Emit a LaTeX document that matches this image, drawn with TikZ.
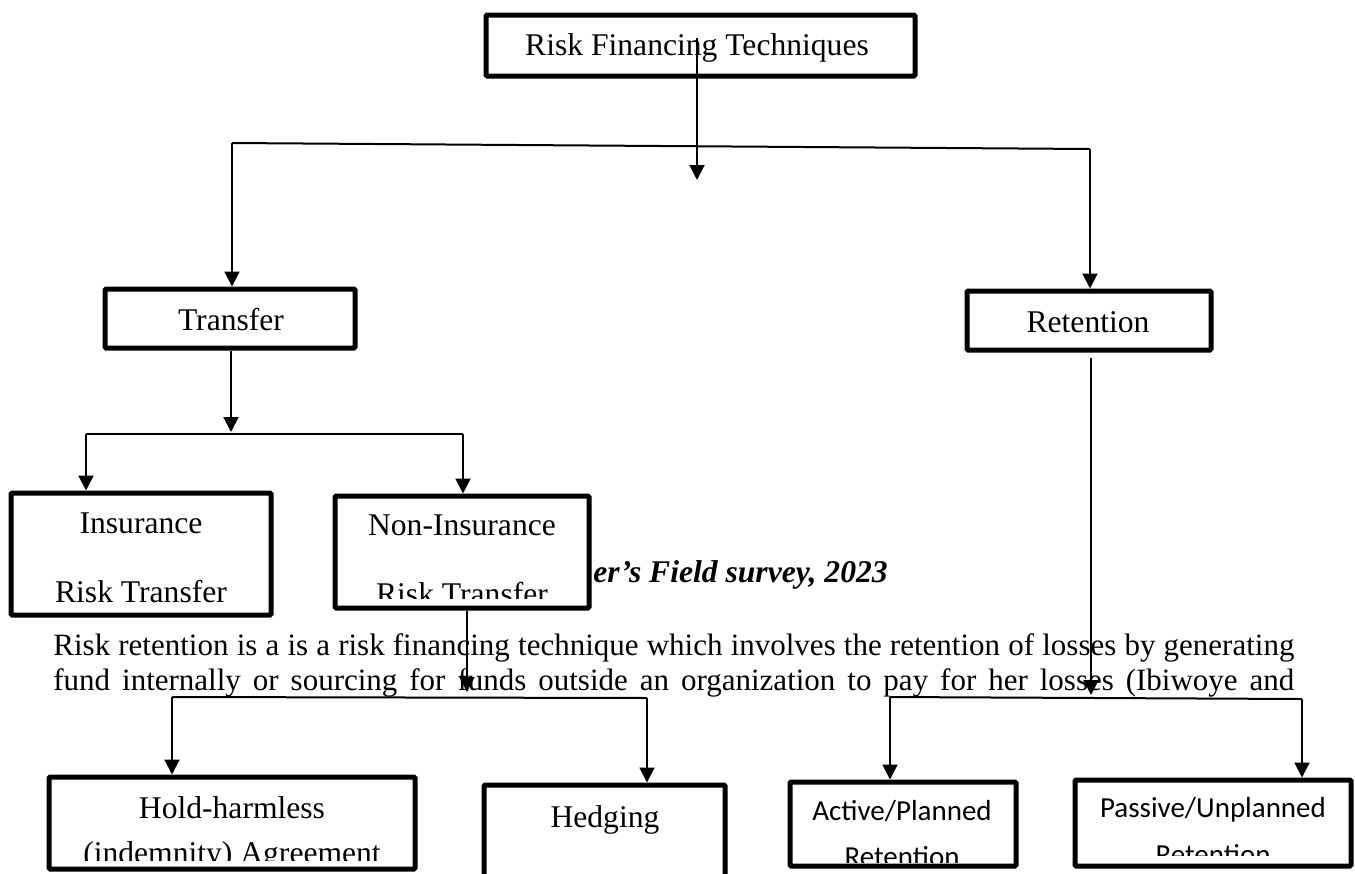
\documentclass[tikz,border=0pt]{standalone}
\usepackage{fontspec}
\setmainfont{Liberation Serif}
\newfontfamily\calibrifont{Carlito}
\usetikzlibrary{arrows.meta}

\begin{document}
\begin{tikzpicture}[
    x=0.5pt, y=-0.5pt,
    >={Triangle[length=7.5pt,width=7.5pt]},
    box/.style={
        draw=black,
        line width=2.5pt,
        rounded corners=0.6pt,
        fill=white,
        inner sep=0pt
    },
    lbl/.style={
        anchor=base,
        inner sep=0pt,
        font=\fontsize{15.8}{18}\selectfont
    },
    cal/.style={
        anchor=base,
        inner sep=0pt,
        font=\calibrifont\fontsize{14.5}{17}\selectfont
    },
    para/.style={
        anchor=base west,
        inner sep=0pt,
        font=\fontsize{15.5}{18}\selectfont
    },
    arr/.style={->, line width=1pt, draw=black},
    conn/.style={line width=1pt, draw=black}
]
    \useasboundingbox (0,0) rectangle (1355,873);

    \node[para] (parone) at (53,655)
        {\makebox[620.5pt][s]{Risk retention is a is a risk financing technique which involves the retention of losses by generating}};
    \node[para] (partwo) at (53,690)
        {\makebox[620.5pt][s]{fund internally or sourcing for funds outside an organization to pay for her losses (Ibiwoye and}};
    \node[para, font=\fontsize{15.8}{18}\selectfont\bfseries\itshape] (survey) at (593,582)
        {er’s Field survey, 2023};

    \node[box, minimum width=214.5pt, minimum height=30.5pt] (rft) at (700.5,45.5) {};
    \node[lbl] (rfttext) at (697,55) {Risk Financing Techniques};

    \node[box, minimum width=125pt, minimum height=29.5pt] (transfer) at (230,318.5) {};
    \node[lbl] (transfertext) at (231,330) {Transfer};

    \node[box, minimum width=122pt, minimum height=29.5pt] (retention) at (1089,320.5) {};
    \node[lbl] (retentiontext) at (1088,332) {Retention};

    \node[box, minimum width=130pt, minimum height=61pt] (ins) at (141,554) {};
    \node[lbl] (insone) at (141,533) {Insurance};
    \node[lbl] (instwo) at (141,602) {Risk Transfer};

    \node[box, minimum width=127pt, minimum height=56pt] (nonins) at (462,552) {};
    \node[lbl] (noninsone) at (462,535) {Non-Insurance};
    \begin{scope}
        \clip (335,496) rectangle (589,598);
        \node[lbl] (noninstwo) at (462,604) {Risk Transfer};
    \end{scope}

    \node[box, minimum width=183pt, minimum height=46pt] (hold) at (232,823) {};
    \node[lbl] (holdone) at (232,818) {Hold-harmless};
    \begin{scope}
        \clip (49,777) rectangle (415,860);
        \node[lbl] (holdtwo) at (232,863) {(indemnity) Agreement};
    \end{scope}

    \node[box, minimum width=120.5pt, minimum height=57.5pt] (hedge) at (604.5,842.5) {};
    \node[lbl] (hedgetext) at (605,827) {Hedging};

    \node[box, minimum width=113pt, minimum height=42pt] (active) at (903,824) {};
    \node[cal] (activeone) at (902,820) {Active/Planned};
    \begin{scope}
        \clip (790,782) rectangle (1016,862);
        \node[cal] (activetwo) at (902,866) {Retention};
    \end{scope}

    \node[box, minimum width=138pt, minimum height=43pt] (passive) at (1213,823) {};
    \node[cal] (passiveone) at (1213,817) {Passive/Unplanned};
    \begin{scope}
        \clip (1075,780) rectangle (1351,855);
        \node[cal] (passivetwo) at (1213,864) {Retention};
    \end{scope}

    \coordinate (rftstart) at (697,38);
    \coordinate (rftend) at (697,180);
    \draw[arr] (rftstart) -- (rftend);

    \coordinate (splitl) at (232,143);
    \coordinate (splitr) at (1090,149);
    \draw[conn] (splitl) -- (splitr);
    \draw[arr] (splitl) -- (splitl |- transfer.north);
    \draw[arr] (splitr) -- (splitr |- retention.north);

    \coordinate (trsplit) at (231,432);
    \draw[arr] (transfer.south -| trsplit) -- (trsplit);
    \coordinate (trl) at (86,434);
    \coordinate (trr) at (463,434);
    \draw[conn] (trl) -- (trr);
    \draw[arr] (trl) -- (trl |- ins.north);
    \draw[arr] (trr) -- (trr |- nonins.north);

    \coordinate (nisplit) at (467,692);
    \draw[arr] (nonins.south -| nisplit) -- (nisplit);
    \coordinate (nil) at (172,697);
    \coordinate (nir) at (647,698);
    \draw[conn] (nil) -- (nir);
    \draw[arr] (nil) -- (nil |- hold.north);
    \draw[arr] (nir) -- (nir |- hedge.north);

    \coordinate (resplit) at (1091,695);
    \draw[arr] ([yshift=-2.5pt]retention.south -| resplit) -- (resplit);
    \coordinate (rel) at (890,697);
    \coordinate (rer) at (1302,699);
    \draw[conn] (rel) -- (rer);
    \draw[arr] (rel) -- (rel |- active.north);
    \draw[arr] (rer) -- (rer |- passive.north);
\end{tikzpicture}
\end{document}
